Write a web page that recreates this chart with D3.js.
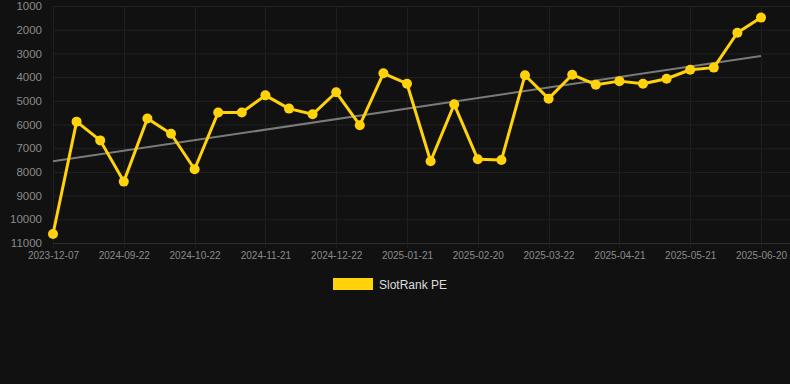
<!DOCTYPE html>
<html><head><meta charset="utf-8">
<script src="https://cdn.jsdelivr.net/npm/d3@7"></script>
<style>html,body{margin:0;padding:0;background:#111111;}svg{display:block;}</style>
</head><body>
<svg id="c" width="790" height="384"></svg>
<script>
const dates = ["2023-12-07","2024-09-02","2024-09-12","2024-09-22","2024-10-02","2024-10-12","2024-10-22","2024-11-01","2024-11-11","2024-11-21","2024-12-01","2024-12-11","2024-12-22","2025-01-01","2025-01-11","2025-01-21","2025-01-31","2025-02-10","2025-02-20","2025-03-02","2025-03-12","2025-03-22","2025-04-01","2025-04-11","2025-04-21","2025-05-01","2025-05-11","2025-05-21","2025-05-31","2025-06-10","2025-06-20"];
const values = [10620,5880,6670,8410,5750,6390,7890,5490,5490,4770,5330,5570,4640,6030,3840,4280,7550,5150,7470,7500,3920,4910,3900,4320,4170,4280,4070,3690,3600,2130,1490];
const yTicks = [1000,2000,3000,4000,5000,6000,7000,8000,9000,10000,11000];
const seriesName = "SlotRank PE";

const svg = d3.select("#c");
const W = 790;
const x = d3.scalePoint().domain(dates).range([53, 761]);
const y = d3.scaleLinear().domain([1000, 11000]).range([6, 243]);

const shownX = dates.filter((d,i)=> i%3===0);

// horizontal grid
svg.append("g").selectAll("line").data(yTicks).join("line")
  .attr("x1",53).attr("x2",W).attr("y1",d=>y(d)+0.5).attr("y2",d=>y(d)+0.5)
  .attr("stroke",d=>d===11000?"#2e2e2e":"#222222").attr("stroke-width",1);
// vertical grid
svg.append("g").selectAll("line").data(shownX).join("line")
  .attr("x1",d=>Math.round(x(d))+0.5).attr("x2",d=>Math.round(x(d))+0.5).attr("y1",6).attr("y2",248)
  .attr("stroke","#1f1f1f").attr("stroke-width",1);

// y axis
const yAxis = d3.axisLeft(y).tickValues(yTicks).tickSize(0).tickPadding(0).tickFormat(d3.format("d"));
const ya = svg.append("g").attr("transform","translate(42,0)").call(yAxis);
ya.select(".domain").remove();
ya.selectAll("text").attr("fill","#8a8a8a").style("font-family","'Liberation Sans',Arial,sans-serif").style("font-size","11.5px");

// x axis
const xAxis = d3.axisBottom(x).tickValues(shownX).tickSize(0).tickPadding(0);
const xa = svg.append("g").attr("transform","translate(0,252)").call(xAxis);
xa.select(".domain").remove();
xa.selectAll("text").attr("fill","#8a8a8a").attr("dy","0.71em").style("font-family","'Liberation Sans',Arial,sans-serif").style("font-size","10px");

// trend line (least squares)
const n = values.length;
const xi = d3.range(n);
const mx = d3.mean(xi), my = d3.mean(values);
const slope = d3.sum(xi, i => (i-mx)*(values[i]-my)) / d3.sum(xi, i => (i-mx)*(i-mx));
const icpt = my - slope*mx;
svg.append("line")
  .attr("x1", x(dates[0])).attr("y1", y(icpt))
  .attr("x2", x(dates[n-1])).attr("y2", y(icpt + slope*(n-1)))
  .attr("stroke","#7a7a7a").attr("stroke-width",2);

// series
const line = d3.line().x((d,i)=>x(dates[i])).y(d=>y(d));
svg.append("path").datum(values).attr("d",line)
  .attr("fill","none").attr("stroke","#ffd20a").attr("stroke-width",3).attr("stroke-linejoin","round");
svg.append("g").selectAll("circle").data(values).join("circle")
  .attr("cx",(d,i)=>x(dates[i])).attr("cy",d=>y(d)).attr("r",5).attr("fill","#ffd20a");

// legend
const lg = svg.append("g");
lg.append("rect").attr("x",333).attr("y",278).attr("width",40).attr("height",12).attr("fill","#ffd20a");
lg.append("text").attr("x",379).attr("y",288.5).text(seriesName).attr("fill","#dddddd")
  .style("font-family","'Liberation Sans',Arial,sans-serif").style("font-size","12px");
</script>
</body></html>
